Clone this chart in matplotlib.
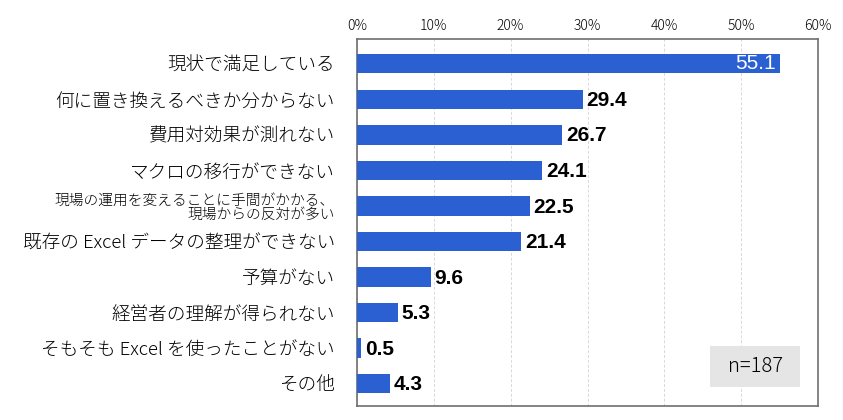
import matplotlib
matplotlib.use('Agg')
import matplotlib.pyplot as plt
from matplotlib.patches import Rectangle
from matplotlib.ticker import FuncFormatter

# Data
CATEGORIES = [
    '現状で満足している',
    '何に置き換えるべきか分からない',
    '費用対効果が測れない',
    'マクロの移行ができない',
    '現場の運用を変えることに手間がかかる、\n現場からの反対が多い',
    '既存の Excel データの整理ができない',
    '予算がない',
    '経営者の理解が得られない',
    'そもそも Excel を使ったことがない',
    'その他',
]
VALUES = [55.1, 29.4, 26.7, 24.1, 22.5, 21.4, 9.6, 5.3, 0.5, 4.3]
X_TICKS = [0, 10, 20, 30, 40, 50, 60]
SAMPLE_NOTE = 'n=187'

BAR_COLOR = '#2B60D2'
JP_FONT = ['Noto Sans CJK JP', 'DejaVu Sans']
NUM_FONT = ['Liberation Sans', 'DejaVu Sans']


def main():
    fig = plt.figure(figsize=(8.43, 4.2), dpi=100)
    ax = fig.add_axes([357 / 843, 1 - 406 / 420, (818 - 357) / 843, (406 - 39) / 420])

    y = list(range(len(CATEGORIES)))
    ax.barh(y, VALUES, height=0.54, color=BAR_COLOR, zorder=3)

    ax.set_xlim(0, 60)
    ax.set_ylim(9.63, -0.70)
    ax.set_xticks(X_TICKS)
    ax.xaxis.set_major_formatter(FuncFormatter(lambda v, p: f'{int(v)}%'))
    ax.xaxis.tick_top()
    ax.tick_params(axis='x', length=0, pad=4, labelsize=10)
    for lbl in ax.get_xticklabels():
        lbl.set_fontfamily(JP_FONT)
        lbl.set_fontweight('light')

    ax.set_yticks(y)
    ax.set_yticklabels(CATEGORIES)
    ax.tick_params(axis='y', length=0, pad=16)
    for i, lbl in enumerate(ax.get_yticklabels()):
        lbl.set_fontfamily(JP_FONT)
        lbl.set_fontweight('light')
        lbl.set_fontsize(10.6 if '\n' in CATEGORIES[i] else 13.4)
        lbl.set_linespacing(1.0)
        lbl.set_horizontalalignment('right')
        lbl.set_multialignment('right')

    ax.grid(axis='x', color='#D8D8D8', linestyle=(0, (3, 2)), linewidth=0.7, zorder=0)
    for side in ax.spines.values():
        side.set_color('#6E6E6E')
        side.set_linewidth(1.2)

    # Value labels
    for i, v in enumerate(VALUES):
        if v > 50:
            ax.text(v - 0.6, i, f'{v:.1f}', ha='right', va='center', color='white',
                    fontsize=15, family=NUM_FONT, zorder=4)
        else:
            ax.text(v + 0.5, i + 0.03, f'{v:.1f}', ha='left', va='center', color='black',
                    fontsize=15, fontweight='bold', family=NUM_FONT, zorder=4)

    # Sample size box
    ax.add_patch(Rectangle((0.765, 0.052), 0.197, 0.112, transform=ax.transAxes,
                           facecolor='#E5E5E5', edgecolor='none', zorder=5))
    ax.text(0.8635, 0.108, SAMPLE_NOTE, transform=ax.transAxes, ha='center', va='center',
            fontsize=14.5, fontweight='light', family=JP_FONT, zorder=6)

    fig.savefig('out.png', dpi=100)


if __name__ == '__main__':
    main()
